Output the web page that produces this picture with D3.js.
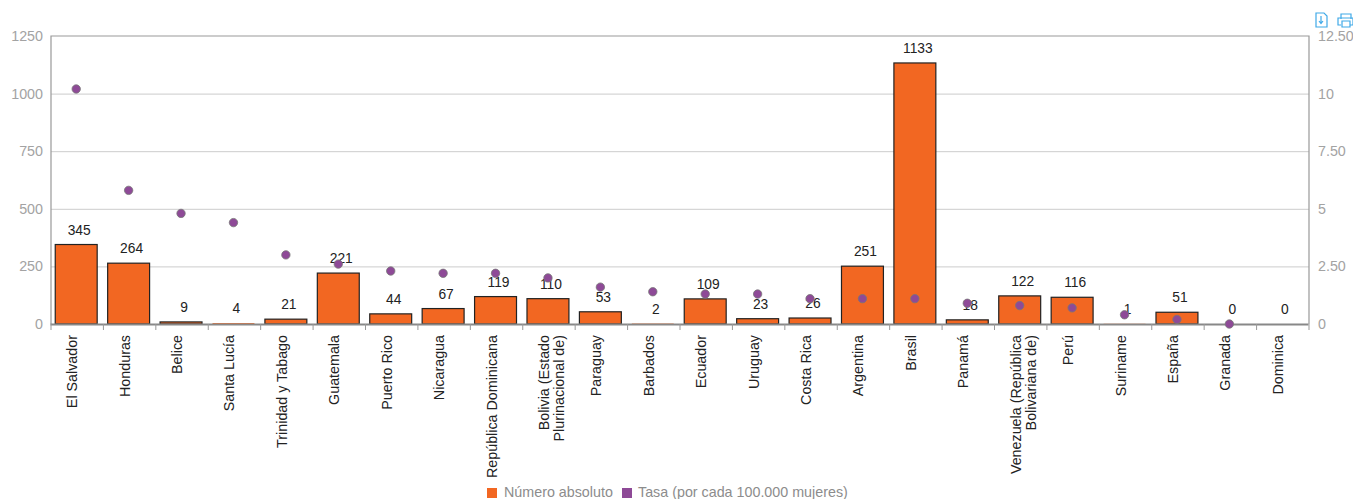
<!DOCTYPE html>
<html>
<head>
<meta charset="utf-8">
<script src="https://d3js.org/d3.v7.min.js"></script>
<style>
  html, body { margin: 0; padding: 0; background: #fff; overflow: hidden; }
  text { font-family: "Liberation Sans", Arial, sans-serif; }
</style>
</head>
<body>
<svg width="1353" height="499"></svg>
<script>
var paises = ["El Salvador", "Honduras", "Belice", "Santa Lucía", "Trinidad y Tabago", "Guatemala",
  "Puerto Rico", "Nicaragua", "República Dominicana", "Bolivia (Estado|Plurinacional de)", "Paraguay",
  "Barbados", "Ecuador", "Uruguay", "Costa Rica", "Argentina", "Brasil", "Panamá",
  "Venezuela (República|Bolivariana de)", "Perú", "Suriname", "España", "Granada", "Dominica"];
var absoluto = [345, 264, 9, 4, 21, 221, 44, 67, 119, 110, 53, 2, 109, 23, 26, 251, 1133, 18, 122, 116, 1, 51, 0, 0];
var tasa = [10.2, 5.8, 4.8, 4.4, 3.0, 2.6, 2.3, 2.2, 2.2, 2.0, 1.6, 1.4, 1.3, 1.3, 1.1, 1.1, 1.1, 0.9, 0.8, 0.7, 0.4, 0.2, 0, null];
var ticksIzq = [0, 250, 500, 750, 1000, 1250];
var ticksDer = [0, 2.5, 5, 7.5, 10, 12.5];
var etiquetasDer = ["0", "2.50", "5", "7.50", "10", "12.50"];
var leyenda = ["Número absoluto", "Tasa (por cada 100.000 mujeres)"];

var naranja = "#f26722", morado = "#8e4a97";
var left = 51, right = 1309, top_ = 36, bottom = 324;

var svg = d3.select("svg");
var x = d3.scaleBand().domain(paises).range([left - 1, right - 1]).paddingInner(0.2).paddingOuter(0.1);
var y = d3.scaleLinear().domain([0, 1250]).range([bottom, top_]);
var y2 = d3.scaleLinear().domain([0, 12.5]).range([bottom, top_]);

// grid
svg.append("g").selectAll("line").data(ticksIzq.slice(1, -1)).enter().append("line")
  .attr("x1", left).attr("x2", right)
  .attr("y1", function (d) { return y(d) + 0.5; })
  .attr("y2", function (d) { return y(d) + 0.5; })
  .attr("stroke", "#ccc");

// marco
svg.append("path")
  .attr("d", "M" + left + "," + bottom + "V" + top_ + "H" + right + "V" + bottom)
  .attr("fill", "none").attr("stroke", "#999").attr("stroke-width", 1.2);

// ejes y
var ejeIzq = svg.append("g").attr("transform", "translate(" + left + ",0)")
  .call(d3.axisLeft(y).tickValues(ticksIzq).tickSize(0).tickPadding(8).tickFormat(d3.format("d")));
var ejeDer = svg.append("g").attr("transform", "translate(" + right + ",0)")
  .call(d3.axisRight(y2).tickValues(ticksDer).tickSize(0).tickPadding(9)
    .tickFormat(function (d, i) { return etiquetasDer[i]; }));
[ejeIzq, ejeDer].forEach(function (g) {
  g.select(".domain").remove();
  g.selectAll("text").attr("fill", "#a3a3a3").style("font-size", "14.3px")
    .style("font-family", "'Liberation Sans', Arial, sans-serif");
});

// barras (las muy bajas quedan tapadas por el eje, sin borde)
svg.append("g").selectAll("rect").data(paises).enter().append("rect")
  .attr("x", function (d) { return x(d); })
  .attr("width", x.bandwidth())
  .attr("y", function (d, i) { return y(absoluto[i]); })
  .attr("height", function (d, i) { return bottom - y(absoluto[i]); })
  .attr("fill", naranja)
  .attr("stroke", function (d, i) { return absoluto[i] < 5 ? "none" : "#222"; })
  .attr("stroke-width", 1.2);

// eje x
var ejeX = svg.append("g").attr("transform", "translate(0," + bottom + ")")
  .call(d3.axisBottom(x).tickSize(0).tickFormat(""));
ejeX.select(".domain").attr("stroke", "#888").attr("stroke-width", 2);
ejeX.selectAll(".tick text").remove();
ejeX.selectAll("line.sep").data(d3.range(paises.length + 1)).enter().append("line")
  .attr("class", "sep")
  .attr("x1", function (d) { return left + d * x.step(); })
  .attr("x2", function (d) { return left + d * x.step(); })
  .attr("y1", 0).attr("y2", 6)
  .attr("stroke", "#999");

// nombres de los paises
var nombres = svg.append("g").selectAll("text").data(paises).enter().append("text")
  .attr("transform", function (d) {
    return "translate(" + (x(d) + x.bandwidth() / 2 - 3.5) + ",335) rotate(-90)";
  })
  .attr("text-anchor", "end")
  .attr("fill", "#222")
  .style("font-size", "14.3px");
nombres.each(function (d) {
  var t = d3.select(this);
  d.split("|").forEach(function (l, i) {
    t.append("tspan").attr("x", 0).attr("y", i * 15 + 4.5).text(l);
  });
});

// valores
svg.append("g").selectAll("text").data(paises).enter().append("text")
  .attr("x", function (d) { return x(d) + x.bandwidth() / 2 + 3; })
  .attr("y", function (d, i) { return y(absoluto[i]) - 10; })
  .attr("text-anchor", "middle")
  .attr("fill", "#222")
  .style("font-size", "13.8px")
  .text(function (d, i) { return absoluto[i]; });

// puntos
svg.append("g").selectAll("circle")
  .data(paises.filter(function (d, i) { return tasa[i] !== null; })).enter().append("circle")
  .attr("cx", function (d) { return x(d) + x.bandwidth() / 2; })
  .attr("cy", function (d) { return y2(tasa[paises.indexOf(d)]); })
  .attr("r", 4.2)
  .attr("fill", morado).attr("stroke", "#777").attr("stroke-width", 0.8);

// leyenda
var ley = svg.append("g");
ley.append("rect").attr("x", 487).attr("y", 488).attr("width", 10).attr("height", 10).attr("fill", naranja);
ley.append("text").attr("x", 504).attr("y", 497).attr("fill", "#8c8c8c").style("font-size", "14.3px").text(leyenda[0]);
ley.append("rect").attr("x", 622).attr("y", 488).attr("width", 10).attr("height", 10).attr("fill", morado);
ley.append("text").attr("x", 638).attr("y", 497).attr("fill", "#8c8c8c").style("font-size", "14.3px").text(leyenda[1]);

// iconos descarga / imprimir
var ico = svg.append("g").attr("fill", "none").attr("stroke", "#3fa9e8").attr("stroke-width", 1.2);
ico.append("path").attr("d", "M1316,13H1324L1327,16V27H1316Z");
ico.append("path").attr("d", "M1321,16V23M1319,21L1321,23.5L1323,21");
ico.append("path").attr("d", "M1341,19V14H1351V19M1341,25H1338V18H1353V25H1350M1342,21H1350V27H1342Z");
</script>
</body>
</html>
